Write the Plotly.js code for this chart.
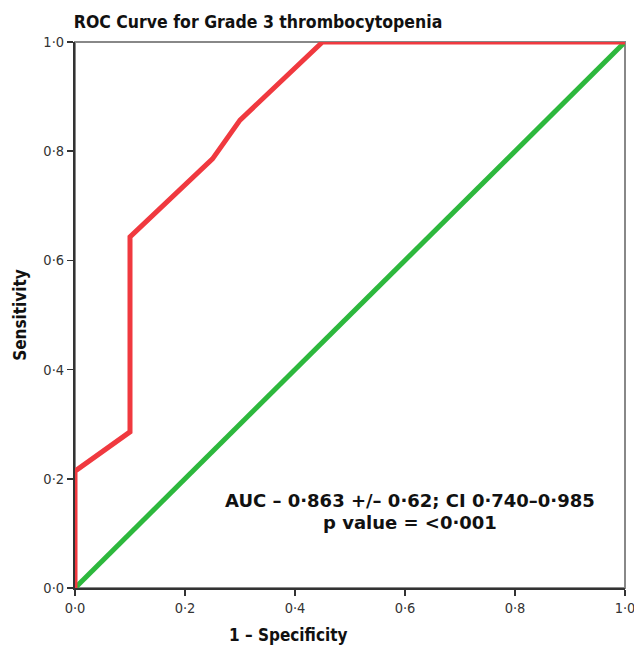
<!DOCTYPE html>
<html>
<head>
<meta charset="utf-8">
<script src="https://cdn.plot.ly/plotly-3.0.1.min.js"></script>
<style>html,body{margin:0;padding:0;background:#fff;}</style>
</head>
<body>
<div id="chart" style="width:634px;height:647px;"></div>
<script>
// ROC curve (1 - Specificity, Sensitivity)
const rocFpr = [0, 0, 0.10, 0.10, 0.25, 0.30, 0.45, 1.0];
const rocTpr = [0, 0.214, 0.286, 0.643, 0.786, 0.857, 1.0, 1.0];
// Reference diagonal
const refX = [0, 1];
const refY = [0, 1];
const tickVals = [0, 0.2, 0.4, 0.6, 0.8, 1.0];
const tickText = ["0·0", "0·2", "0·4", "0·6", "0·8", "1·0"];
const aucText = "AUC – 0·863 +/– 0·62; CI 0·740–0·985";
const pText = "p value = <0·001";

const traces = [
  {x: refX, y: refY, mode: 'lines', line: {color: '#2db83d', width: 5}, cliponaxis: false, hoverinfo: 'skip'},
  {x: rocFpr, y: rocTpr, mode: 'lines', line: {color: '#f0393f', width: 5}, cliponaxis: false, hoverinfo: 'skip'}
];

const boldFam = 'DejaVu Sans Condensed, DejaVu Sans, sans-serif';
const axisFont = {family: 'DejaVu Sans Condensed, DejaVu Sans, sans-serif', size: 14.5, color: '#333'};
const layout = {
  width: 634, height: 647,
  margin: {l: 75, r: 9, t: 42, b: 59},
  paper_bgcolor: '#fff', plot_bgcolor: '#fff',
  showlegend: false,
  font: {family: 'Liberation Sans, Arial, sans-serif'},
  title: {text: '<b>ROC Curve for Grade 3 thrombocytopenia</b>', xref: 'container', x: 258/634, xanchor: 'center', yref: 'container', y: 1 - 22/647, yanchor: 'middle',
          font: {family: boldFam, size: 17.5, color: '#111'}},
  xaxis: {range: [0, 1], tickvals: tickVals, ticktext: tickText, ticks: 'outside', ticklen: 6, tickwidth: 1.5, tickcolor: '#333',
          ticklabeloverflow: 'allow', automargin: false,
          showgrid: false, zeroline: false, showline: true, linecolor: '#333', linewidth: 2, tickfont: axisFont},
  yaxis: {range: [0, 1], tickvals: tickVals, ticktext: tickText, ticks: 'outside', ticklen: 6, tickwidth: 1.5, tickcolor: '#333',
          ticklabeloverflow: 'allow', automargin: false,
          showgrid: false, zeroline: false, showline: true, linecolor: '#333', linewidth: 2, tickfont: axisFont,
          title: {text: '<b>Sensitivity</b>', font: {family: boldFam, size: 17, color: '#111'}, standoff: 12}},
  shapes: [
    {type: 'rect', xref: 'paper', yref: 'paper', x0: 0, x1: 1, y0: 0, y1: 1, line: {color: '#888', width: 2}, layer: 'below'}
  ],
  annotations: [
    {x: 0.609, y: (588 - 500) / 546, xref: 'paper', yref: 'paper', text: '<b>' + aucText + '</b>', showarrow: false,
     font: {family: 'DejaVu Sans, sans-serif', size: 18, color: '#111'}, xanchor: 'center', yanchor: 'middle'},
    {x: 0.609, y: (588 - 522) / 546, xref: 'paper', yref: 'paper', text: '<b>' + pText + '</b>', showarrow: false,
     font: {family: 'DejaVu Sans, sans-serif', size: 18, color: '#111'}, xanchor: 'center', yanchor: 'middle'},
    {x: (288 - 75) / 550, y: -(635 - 588) / 546, xref: 'paper', yref: 'paper', text: '<b>1 – Specificity</b>', showarrow: false,
     font: {family: boldFam, size: 17, color: '#111'}, xanchor: 'center', yanchor: 'middle'}
  ]
};
Plotly.newPlot('chart', traces, layout, {staticPlot: true});
</script>
</body>
</html>
